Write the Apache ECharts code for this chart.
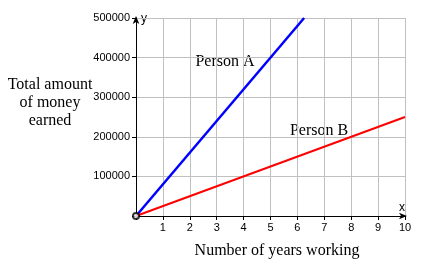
<!DOCTYPE html>
<html><head><meta charset="utf-8">
<script src="https://cdn.jsdelivr.net/npm/echarts@6/dist/echarts.min.js"></script>
<style>html,body{margin:0;padding:0;background:#fff}#c{width:422px;height:269px}</style>
</head><body><div id="c"></div>
<script>
const xTicks = [0,1,2,3,4,5,6,7,8,9,10];
const yTicks = [0,100000,200000,300000,400000,500000];
const personA = [[0,0],[6.25,500000]];
const personB = [[0,0],[10,250000]];
const origin = [[0,0]];
const chart = echarts.init(document.getElementById('c'));
const serif = '"Liberation Serif","DejaVu Serif",serif';
const sans = '"Liberation Sans",Arial,sans-serif';
chart.setOption({
  animation:false,
  backgroundColor:'#fff',
  grid:{left:136,right:17,top:18,bottom:53},
  xAxis:{type:'value',min:xTicks[0],max:xTicks[xTicks.length-1],interval:1,
    axisLine:{lineStyle:{color:'#000',width:1},symbol:['none','arrow'],symbolSize:[5,8],symbolOffset:[0,2]},
    axisTick:{show:true,length:4,lineStyle:{color:'#000'}},
    axisLabel:{color:'#000',fontFamily:sans,fontSize:11,margin:6,formatter:v=>v===0?'':String(v)},
    splitLine:{show:true,lineStyle:{color:'#c0c0c0',width:1}}},
  yAxis:{type:'value',min:yTicks[0],max:yTicks[yTicks.length-1],interval:100000,
    axisLine:{lineStyle:{color:'#000',width:1},symbol:['none','arrow'],symbolSize:[5,8],symbolOffset:[0,2]},
    axisTick:{show:true,length:4,lineStyle:{color:'#000'}},
    axisLabel:{color:'#000',fontFamily:sans,fontSize:11,margin:6,formatter:v=>v===0?'':String(v)},
    splitLine:{show:true,lineStyle:{color:'#c0c0c0',width:1}}},
  graphic:[
    {type:'text',x:141,y:19,style:{text:'y',font:'12px '+sans,fill:'#000',textVerticalAlign:'middle'}},
    {type:'text',x:399,y:208,style:{text:'x',font:'12px '+sans,fill:'#000',textVerticalAlign:'middle'}},
    {type:'text',x:50,y:103,style:{text:'Total amount\nof money\nearned',font:'16px '+serif,fill:'#000',textAlign:'center',textVerticalAlign:'middle',lineHeight:18}},
    {type:'text',x:277,y:251,style:{text:'Number of years working',font:'16px '+serif,fill:'#000',textAlign:'center',textVerticalAlign:'middle'}},
    {type:'text',x:225,y:62,style:{text:'Person A',font:'16px '+serif,fill:'#000',textAlign:'center',textVerticalAlign:'middle'}},
    {type:'text',x:319,y:131,style:{text:'Person B',font:'16px '+serif,fill:'#000',textAlign:'center',textVerticalAlign:'middle'}}
  ],
  series:[
    {name:'Person A',type:'line',data:personA,showSymbol:false,lineStyle:{color:'#0000ff',width:2.5},itemStyle:{color:'#0000ff'},z:3},
    {name:'Person B',type:'line',data:personB,showSymbol:false,lineStyle:{color:'#ff0000',width:2},itemStyle:{color:'#ff0000'},z:3},
    {type:'scatter',data:origin,symbol:'emptyCircle',symbolSize:6,itemStyle:{color:'#000',borderColor:'#000',borderWidth:1},z:4}
  ]
});
</script></body></html>
